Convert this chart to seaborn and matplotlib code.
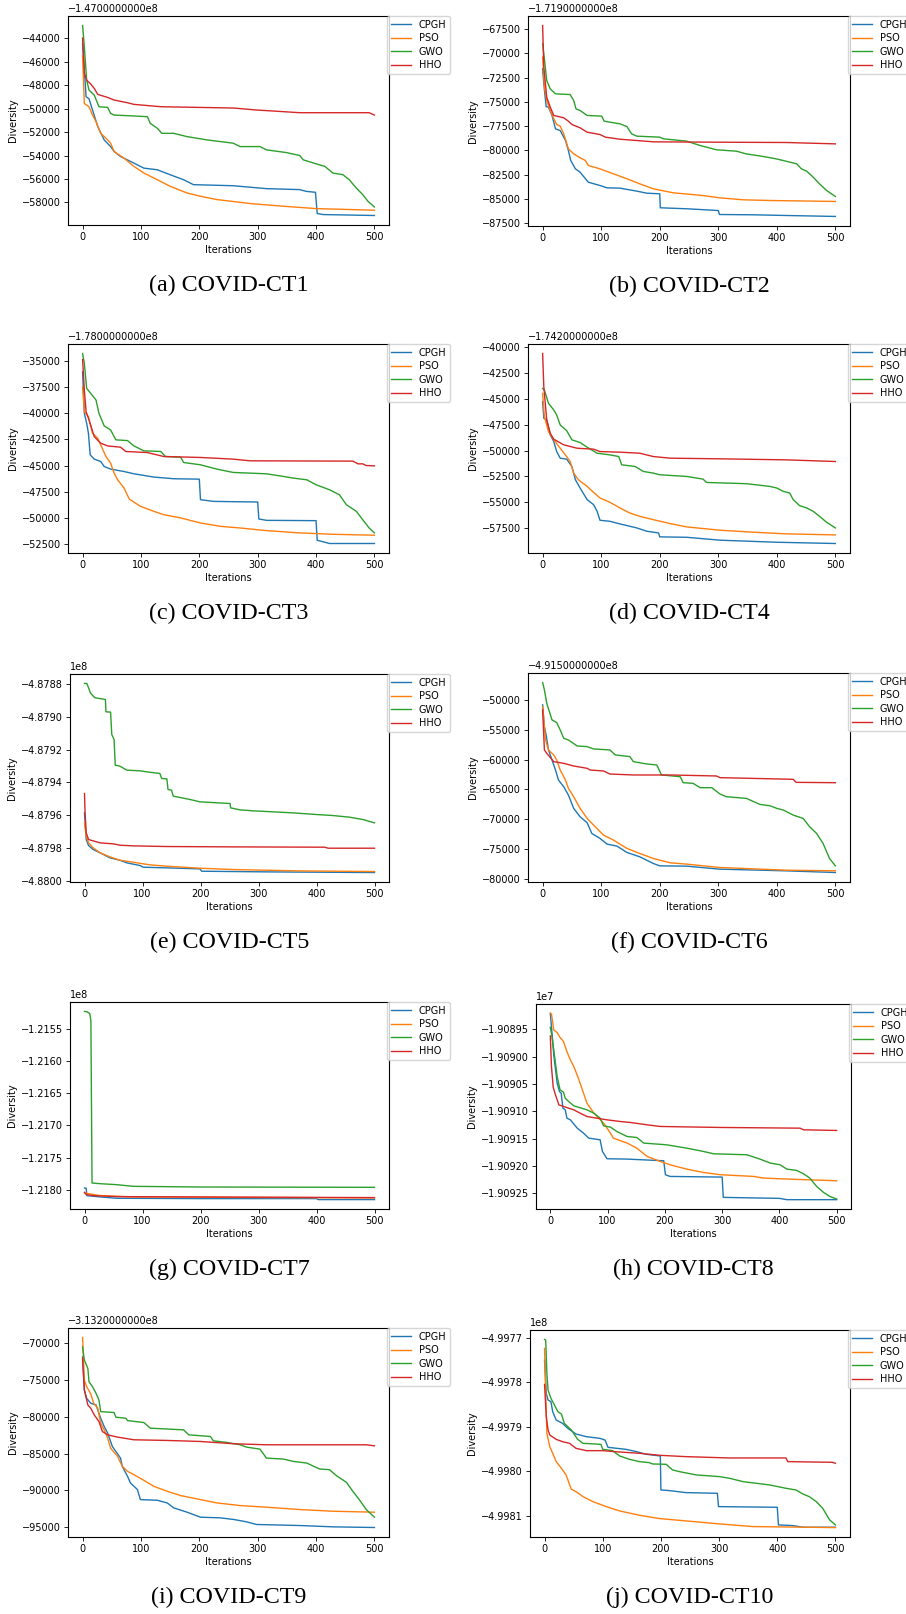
import matplotlib
matplotlib.use("Agg")
import matplotlib.pyplot as plt
import pandas as pd
import seaborn as sns
from matplotlib.ticker import ScalarFormatter

ALGOS = ["CPGH", "PSO", "GWO", "HHO"]
COLORS = ["#1f77b4", "#ff7f0e", "#2ca02c", "#d62728"]
CAPTIONS = ["(a) COVID-CT1", "(b) COVID-CT2", "(c) COVID-CT3", "(d) COVID-CT4",
            "(e) COVID-CT5", "(f) COVID-CT6", "(g) COVID-CT7", "(h) COVID-CT8",
            "(i) COVID-CT9", "(j) COVID-CT10"]
# base value of each panel; series below are given relative to it
BASES = [-147000000, -171900000, -178000000, -174200000, -487880000,
         -491500000, -121550000, -19089500, -313200000, -499770000]
# True -> axis shows an additive offset text, False -> plain "1eN" scale
USE_OFFSET = [True, True, True, True, False, True, False, False, True, False]

# ---- (a) COVID-CT1 ----
CT1_CPGH = [(0,-44450),(6,-48980),(11,-49150),(17,-50100),(26,-51530),(37,-52660),(48,-53230),(54,-53650),(65,-54080),(88,-54640),(105,-55070),(128,-55210),(150,-55630),(173,-56060),(190,-56480),(258,-56570),(315,-56820),(372,-56900),(383,-57050),(399,-57130),(402,-58940),(412,-59030),(500,-59110)]
CT1_PSO = [(0,-45500),(3,-49550),(11,-49830),(17,-50540),(23,-51100),(31,-52100),(43,-52660),(48,-52940),(54,-53650),(71,-54220),(88,-54920),(105,-55490),(128,-56060),(150,-56620),(179,-57190),(202,-57470),(230,-57750),(287,-58090),(344,-58320),(400,-58520),(500,-58660)]
CT1_GWO = [(0,-42900),(3,-44740),(7,-47570),(11,-48410),(20,-48840),(28,-49830),(43,-49890),(48,-50400),(54,-50540),(88,-50620),(111,-50680),(116,-51250),(128,-51670),(136,-52100),(156,-52100),(179,-52380),(213,-52660),(258,-52940),(270,-53230),(304,-53230),(315,-53510),(349,-53740),(372,-53990),(378,-54360),(400,-54700),(415,-54920),(429,-55490),(446,-55630),(457,-56060),(469,-56770),(480,-57330),(489,-57900),(500,-58380)]
CT1_HHO = [(0,-43970),(3,-47000),(7,-47570),(14,-47900),(20,-48270),(26,-48780),(43,-49040),(54,-49260),(77,-49490),(88,-49630),(116,-49750),(134,-49830),(202,-49890),(258,-49940),(298,-50110),(344,-50250),(372,-50340),(491,-50340),(500,-50540)]

# ---- (b) COVID-CT2 ----
CT2_CPGH = [(0,-71600),(2,-73150),(6,-75480),(10,-75550),(16,-76400),(22,-77780),(30,-77950),(39,-78970),(44,-80000),(48,-81030),(56,-81890),(64,-82230),(78,-83260),(98,-83600),(110,-83840),(132,-83870),(161,-84180),(178,-84390),(200,-84450),(201,-85890),(246,-85990),(300,-86170),(302,-86580),(360,-86610),(416,-86680),(500,-86780)]
CT2_PSO = [(0,-70400),(3,-73490),(7,-74860),(13,-75890),(19,-76750),(24,-77330),(30,-77500),(36,-78290),(44,-79830),(53,-80340),(64,-80750),(73,-81030),(78,-81540),(98,-81890),(121,-82400),(144,-82910),(166,-83430),(189,-83940),(223,-84350),(274,-84630),(303,-84870),(343,-85070),(388,-85140),(500,-85240)]
CT2_GWO = [(0,-69040),(2,-70070),(7,-72810),(13,-73670),(22,-74180),(47,-74250),(53,-74860),(57,-75720),(64,-75890),(76,-76400),(101,-76470),(105,-76990),(132,-77260),(144,-77540),(152,-78290),(161,-78530),(200,-78630),(206,-78800),(246,-79040),(269,-79490),(280,-79660),(297,-79930),(331,-80070),(347,-80340),(377,-80620),(399,-80860),(434,-81370),(442,-81890),(451,-82120),(462,-82740),(473,-83430),(485,-84110),(500,-84730)]
CT2_HHO = [(0,-67160),(2,-71440),(7,-74520),(13,-75550),(19,-76400),(36,-76640),(44,-76990),(50,-77330),(64,-77670),(76,-78120),(98,-78360),(107,-78630),(132,-78840),(189,-79110),(303,-79150),(416,-79180),(500,-79320)]

# ---- (c) COVID-CT3 ----
CT3_CPGH = [(0,-36050),(3,-40000),(7,-40960),(10,-41910),(13,-43970),(20,-44380),(31,-44600),(37,-45080),(48,-45330),(71,-45560),(88,-45780),(122,-46090),(156,-46250),(200,-46290),(202,-48250),(224,-48410),(258,-48440),(300,-48470),(302,-50090),(315,-50220),(400,-50250),(402,-52120),(423,-52430),(500,-52430)]
CT3_PSO = [(0,-37470),(3,-39850),(10,-40330),(17,-41910),(26,-42390),(31,-43020),(40,-44130),(48,-44760),(54,-45710),(60,-46350),(71,-47140),(80,-48190),(99,-48880),(122,-49360),(139,-49680),(168,-49990),(202,-50470),(236,-50790),(270,-50950),(315,-51200),(372,-51420),(429,-51550),(500,-51640)]
CT3_GWO = [(0,-34300),(3,-35250),(7,-37630),(14,-38110),(23,-38740),(28,-40000),(37,-41210),(48,-41590),(57,-42540),(77,-42610),(88,-43120),(105,-43590),(134,-43650),(142,-44130),(168,-44190),(173,-44700),(202,-44920),(230,-45330),(258,-45650),(315,-45780),(344,-46030),(361,-46190),(384,-46350),(400,-46820),(423,-47300),(440,-47780),(452,-48730),(469,-49360),(480,-50160),(491,-50950),(500,-51420)]
CT3_HHO = [(0,-34870),(3,-37790),(6,-39850),(11,-40640),(20,-42230),(31,-42860),(43,-43120),(65,-43240),(74,-43650),(111,-43750),(139,-44130),(202,-44220),(258,-44380),(287,-44540),(463,-44570),(472,-44830),(480,-44830),(486,-44990),(500,-45020)]

# ---- (d) COVID-CT4 ----
CT4_CPGH = [(0,-45290),(2,-46890),(7,-47050),(13,-48490),(19,-49130),(24,-50100),(30,-50740),(41,-50830),(50,-51540),(56,-52820),(64,-53620),(76,-54740),(87,-55220),(93,-55860),(98,-56730),(115,-56830),(132,-57080),(161,-57470),(178,-57790),(198,-57950),(200,-58330),(246,-58370),(303,-58650),(400,-58850),(500,-58970)]
CT4_PSO = [(0,-44490),(3,-46730),(10,-48170),(19,-48970),(30,-49780),(41,-50580),(47,-51060),(53,-52180),(61,-52820),(76,-53460),(87,-54040),(98,-54580),(115,-55000),(132,-55540),(149,-56030),(166,-56350),(189,-56670),(218,-57050),(246,-57370),(303,-57690),(360,-57880),(416,-58040),(500,-58140)]
CT4_GWO = [(0,-44010),(3,-44170),(10,-45450),(19,-46090),(24,-46570),(30,-47530),(41,-48080),(50,-48970),(64,-49230),(76,-49680),(93,-50260),(115,-50420),(130,-50580),(135,-51380),(158,-51540),(172,-52020),(189,-52180),(200,-52340),(246,-52500),(274,-52760),(280,-53080),(348,-53200),(388,-53460),(400,-53620),(411,-53940),(422,-54100),(428,-54740),(439,-55320),(451,-55540),(462,-55860),(473,-56350),(485,-56920),(500,-57470)]
CT4_HHO = [(0,-40640),(2,-43850),(7,-47050),(13,-48330),(19,-48910),(36,-49450),(59,-49780),(87,-49870),(98,-50100),(132,-50160),(166,-50260),(189,-50580),(218,-50740),(303,-50800),(416,-50900),(500,-51060)]

# ---- (e) COVID-CT5 ----
CT5_CPGH = [(0,-78580),(3,-94910),(7,-98580),(15,-101030),(27,-103070),(44,-106130),(61,-107560),(73,-109190),(96,-110830),(101,-111840),(142,-112250),(199,-112870),(202,-114300),(314,-114700),(500,-115110)]
CT5_PSO = [(0,-84700),(3,-92870),(7,-96950),(15,-100010),(27,-103070),(44,-105520),(61,-107560),(84,-108790),(113,-110420),(142,-111230),(199,-112460),(256,-113280),(371,-114100),(500,-114500)]
CT5_GWO = [(0,612),(4,612),(7,-2040),(10,-5100),(15,-7140),(18,-8160),(36,-9180),(37,-16740),(45,-16940),(47,-30620),(51,-33680),(53,-49390),(61,-50000),(73,-52450),(96,-52860),(107,-53470),(130,-54490),(133,-57560),(142,-57760),(144,-64290),(150,-64700),(153,-68370),(165,-69190),(182,-70410),(199,-71840),(251,-72860),(252,-75520),(268,-76740),(291,-77350),(314,-77760),(359,-78580),(400,-79600),(428,-80210),(457,-81230),(480,-82660),(500,-84700)]
CT5_HHO = [(0,-66740),(1,-78580),(3,-90820),(7,-94910),(13,-95520),(21,-96340),(27,-96950),(50,-97560),(61,-98380),(84,-98780),(142,-99190),(256,-99400),(414,-99600),(420,-100210),(500,-100210)]

# ---- (f) COVID-CT6 ----
CT6_CPGH = [(0,-50790),(3,-54500),(6,-55840),(10,-58370),(16,-60060),(22,-61740),(27,-63430),(36,-64550),(44,-65960),(53,-68200),(64,-69610),(76,-70620),(84,-72420),(98,-73260),(110,-74210),(127,-74550),(144,-75620),(166,-76350),(189,-77470),(200,-77870),(246,-77920),(303,-78430),(416,-78710),(500,-78990)]
CT6_PSO = [(0,-51070),(5,-56690),(10,-58370),(19,-59210),(24,-60060),(30,-61740),(39,-63430),(44,-64830),(53,-66240),(64,-68200),(76,-69890),(87,-71010),(104,-72700),(121,-73540),(144,-74940),(166,-75790),(189,-76630),(218,-77360),(246,-77580),(303,-78150),(416,-78600),(500,-78710)]
CT6_GWO = [(0,-47020),(3,-48260),(7,-50510),(16,-53310),(24,-53760),(30,-55000),(36,-56400),(44,-56690),(59,-57700),(76,-57810),(87,-58200),(115,-58370),(124,-59210),(149,-59490),(155,-60340),(178,-60730),(195,-60900),(203,-62580),(235,-62870),(240,-63880),(257,-63990),(269,-64720),(289,-64720),(303,-65790),(314,-66240),(348,-66520),(371,-67530),(388,-67750),(400,-68200),(411,-68480),(428,-69330),(445,-69890),(456,-71290),(468,-72420),(479,-74100),(490,-76630),(500,-77870)]
CT6_HHO = [(0,-51630),(3,-58370),(7,-58930),(19,-60340),(36,-60620),(53,-61070),(76,-61460),(81,-61740),(104,-61910),(115,-62420),(155,-62580),(218,-62580),(297,-62750),(303,-63030),(428,-63310),(433,-63820),(500,-63880)]

# ---- (g) COVID-CT7 ----
CT7_CPGH = [(0,-247440),(3,-248000),(4,-259300),(27,-261360),(56,-263420),(199,-263940),(400,-263940),(403,-265480),(500,-265480)]
CT7_PSO = [(0,-255170),(10,-256720),(27,-259300),(84,-261360),(500,-262910)]
CT7_GWO = [(0,27320),(4,26800),(9,24230),(11,12890),(13,-239710),(27,-240740),(56,-242290),(84,-244860),(199,-245890),(500,-246410)]
CT7_HHO = [(0,-254140),(3,-257750),(15,-259300),(56,-260840),(199,-261360),(500,-262400)]

# ---- (h) COVID-CT8 ----
CT8_CPGH = [(0,292),(2,49),(6,-468),(12,-985),(16,-1138),(19,-1168),(22,-1442),(26,-1472),(29,-1624),(35,-1655),(47,-1807),(58,-1898),(67,-1989),(87,-2020),(91,-2232),(99,-2366),(134,-2372),(198,-2403),(201,-2658),(209,-2689),(300,-2701),(302,-3072),(400,-3090),(413,-3114),(500,-3114)]
CT8_PSO = [(0,292),(2,280),(6,-12),(12,-61),(16,-134),(23,-225),(29,-408),(35,-560),(41,-681),(49,-894),(58,-1168),(64,-1350),(76,-1533),(93,-1715),(105,-1898),(110,-1989),(134,-2080),(151,-2172),(169,-2324),(192,-2415),(209,-2476),(238,-2555),(267,-2616),(297,-2658),(355,-2689),(372,-2719),(413,-2737),(500,-2768)]
CT8_GWO = [(0,36),(3,-134),(6,-377),(12,-864),(17,-1107),(23,-1150),(26,-1259),(32,-1320),(41,-1399),(64,-1472),(76,-1533),(87,-1624),(93,-1764),(105,-1788),(116,-1867),(134,-1959),(151,-1977),(163,-2080),(180,-2093),(203,-2111),(238,-2172),(267,-2232),(285,-2275),(343,-2293),(366,-2372),(384,-2445),(401,-2476),(413,-2555),(430,-2579),(442,-2640),(453,-2719),(465,-2871),(477,-2981),(488,-3054),(500,-3102)]
CT8_HHO = [(0,-122),(2,-681),(5,-1058),(9,-1198),(15,-1381),(23,-1411),(41,-1472),(52,-1533),(64,-1594),(81,-1624),(99,-1655),(122,-1685),(140,-1703),(169,-1746),(192,-1776),(297,-1794),(436,-1807),(442,-1837),(500,-1849)]

# ---- (i) COVID-CT9 ----
CT9_CPGH = [(0,-71850),(3,-76360),(7,-77490),(14,-78170),(23,-78390),(31,-80200),(37,-81330),(43,-82230),(51,-84040),(65,-85620),(68,-86740),(77,-88100),(82,-89000),(94,-89900),(99,-91260),(128,-91350),(145,-91710),(156,-92380),(179,-92970),(202,-93650),(236,-93740),(259,-93960),(281,-94280),(298,-94640),(372,-94780),(429,-94960),(500,-95050)]
CT9_PSO = [(0,-69230),(3,-75010),(7,-75910),(14,-76900),(19,-78170),(26,-78850),(31,-80880),(37,-81780),(43,-82910),(48,-84270),(60,-85390),(68,-86740),(77,-87420),(88,-87870),(105,-88640),(122,-89450),(145,-90130),(168,-90710),(202,-91260),(230,-91710),(270,-92070),(315,-92290),(372,-92610),(429,-92840),(500,-92970)]
CT9_GWO = [(0,-70500),(3,-72300),(9,-73430),(11,-75240),(17,-75910),(23,-76810),(28,-77720),(31,-79300),(54,-79430),(57,-80060),(74,-80200),(77,-80520),(105,-80790),(116,-81550),(173,-81780),(182,-82460),(219,-82680),(224,-83270),(247,-83490),(270,-83810),(281,-84130),(304,-84400),(315,-85620),(344,-85750),(361,-86070),(384,-86290),(406,-87100),(423,-87190),(435,-88010),(452,-88910),(463,-90130),(474,-91260),(486,-92610),(500,-93650)]
CT9_HHO = [(0,-72080),(3,-76360),(9,-78390),(14,-78850),(20,-79750),(28,-80650),(34,-82010),(43,-82460),(60,-82770),(88,-83130),(145,-83220),(202,-83360),(259,-83670),(315,-83810),(486,-83810),(500,-83950)]

# ---- (j) COVID-CT10 ----
CT10_CPGH = [(0,-5010),(3,-12490),(6,-13980),(11,-14360),(14,-16600),(20,-18470),(31,-19220),(40,-20340),(54,-21610),(72,-22210),(95,-22580),(104,-22960),(109,-24600),(140,-25050),(158,-25570),(175,-26170),(199,-26540),(200,-34170),(215,-34320),(243,-34770),(297,-34920),(299,-37910),(400,-38060),(402,-42020),(427,-42170),(444,-42540),(500,-42540)]
CT10_PSO = [(0,-2390),(2,-12490),(4,-21460),(9,-24450),(14,-25940),(20,-27810),(29,-29310),(37,-30800),(46,-34020),(54,-34540),(66,-35670),(83,-36790),(106,-37910),(129,-38880),(163,-39850),(198,-40600),(243,-41120),(301,-41800),(358,-42390),(500,-42620)]
CT10_GWO = [(0,-370),(2,-520),(4,-8000),(6,-11740),(11,-13610),(17,-15100),(23,-16600),(29,-17120),(34,-19220),(46,-20710),(57,-22810),(66,-23700),(97,-23930),(100,-25050),(117,-25350),(129,-26540),(146,-27290),(163,-27810),(180,-28040),(186,-28340),(209,-28410),(220,-29680),(232,-30060),(261,-30800),(301,-31180),(318,-31550),(341,-32300),(387,-33050),(415,-33800),(432,-34170),(444,-35070),(455,-35670),(467,-36790),(478,-38280),(490,-40900),(500,-42020)]
CT10_HHO = [(0,-10470),(3,-17720),(6,-20710),(9,-21830),(20,-22810),(31,-23330),(43,-23700),(54,-24820),(72,-25350),(100,-25350),(129,-25650),(163,-25940),(198,-26390),(243,-26690),(318,-26990),(415,-26990),(418,-27810),(495,-27960),(500,-28190)]

PANELS = [
    [CT1_CPGH, CT1_PSO, CT1_GWO, CT1_HHO],
    [CT2_CPGH, CT2_PSO, CT2_GWO, CT2_HHO],
    [CT3_CPGH, CT3_PSO, CT3_GWO, CT3_HHO],
    [CT4_CPGH, CT4_PSO, CT4_GWO, CT4_HHO],
    [CT5_CPGH, CT5_PSO, CT5_GWO, CT5_HHO],
    [CT6_CPGH, CT6_PSO, CT6_GWO, CT6_HHO],
    [CT7_CPGH, CT7_PSO, CT7_GWO, CT7_HHO],
    [CT8_CPGH, CT8_PSO, CT8_GWO, CT8_HHO],
    [CT9_CPGH, CT9_PSO, CT9_GWO, CT9_HHO],
    [CT10_CPGH, CT10_PSO, CT10_GWO, CT10_HHO],
]

# layout (pixels: left, top, right, bottom)
W, H = 906, 1614
POS = [(68, 16, 389, 225), (528, 16, 850, 226),
       (68, 344, 389, 553), (528, 344, 850, 553),
       (70, 674, 389, 882), (528, 673, 850, 882),
       (70, 1002, 389, 1209), (536, 1004, 851, 1209),
       (68, 1328, 389, 1537), (530, 1330, 850, 1537)]
FS = 7.0


class LegacyOffsetFormatter(ScalarFormatter):
    """Offset text written like older matplotlib: -1.4700000000e8"""
    def __init__(self, offset):
        super().__init__(useOffset=offset)
        self._fixed = offset

    def get_offset(self):
        if len(self.locs) == 0:
            return ""
        m, e = f"{self._fixed:.10e}".split("e")
        return f"{m}e{int(e)}".replace("-", "\u2212")


fig = plt.figure(figsize=(W / 100, H / 100), dpi=100)
fig.patch.set_facecolor("white")

for i, series in enumerate(PANELS):
    l, t, r, b = POS[i]
    ax = fig.add_axes([l / W, 1 - b / H, (r - l) / W, (b - t) / H])
    rows = []
    for algo, pts in zip(ALGOS, series):
        for it, v in pts:
            rows.append((it, BASES[i] + v, algo))
    df = pd.DataFrame(rows, columns=["Iterations", "Diversity", "Algorithm"])
    sns.lineplot(data=df, x="Iterations", y="Diversity", hue="Algorithm",
                 hue_order=ALGOS, palette=COLORS, estimator=None, sort=False,
                 linewidth=1.0, ax=ax, legend=False)
    ax.set_xticks([0, 100, 200, 300, 400, 500])
    if USE_OFFSET[i]:
        ax.yaxis.set_major_formatter(LegacyOffsetFormatter(BASES[i]))
    else:
        ax.yaxis.set_major_formatter(ScalarFormatter(useOffset=False))
    ax.yaxis.get_offset_text().set_fontsize(FS)
    ax.tick_params(labelsize=FS, length=2.6, width=0.6, pad=2.4)
    for s in ax.spines.values():
        s.set_linewidth(0.8)
        s.set_color("black")
    ax.set_xlabel("Iterations", fontsize=FS, labelpad=2)
    ax.set_ylabel("Diversity", fontsize=FS, labelpad=3)
    ax.legend(ax.lines[:4], ALGOS, loc="upper left", bbox_to_anchor=(0.995, 1.0),
              borderaxespad=0, fontsize=FS, labelspacing=0.35, handlelength=2.0,
              handletextpad=0.8, borderpad=0.4, frameon=True)
    fig.text(((l + r) / 2) / W, 1 - (b + 60) / H, CAPTIONS[i], ha="center",
             va="center", family="Liberation Serif", fontsize=17.3)

fig.savefig("out.png", dpi=100, facecolor="white")
